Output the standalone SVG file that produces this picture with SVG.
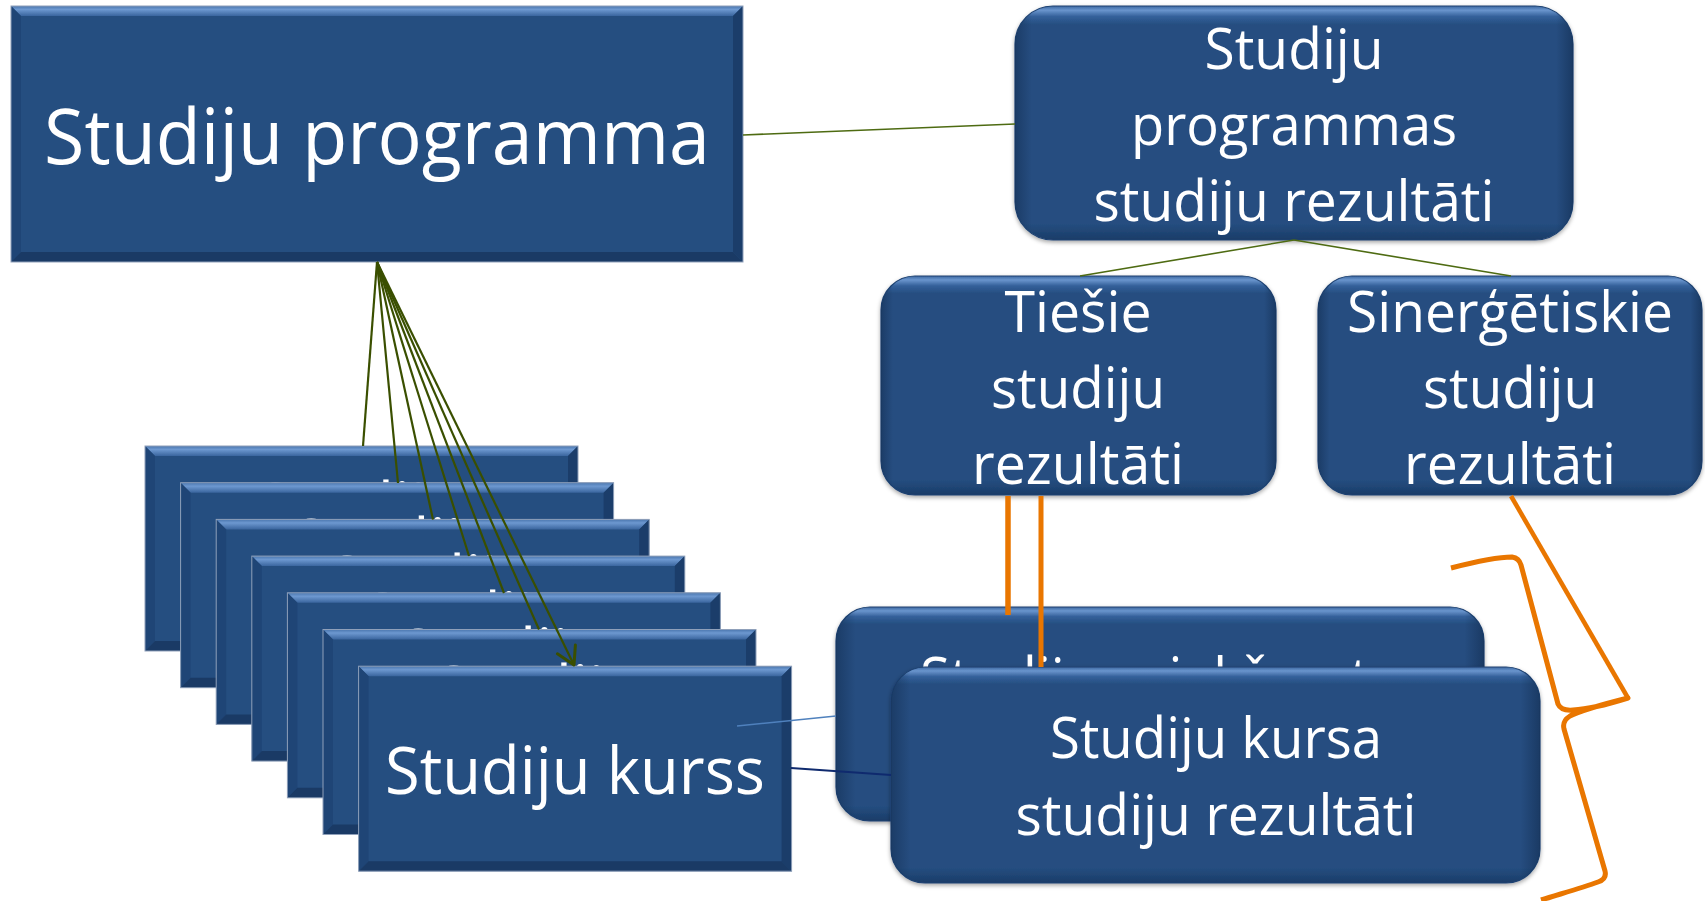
<svg xmlns="http://www.w3.org/2000/svg" xmlns:xlink="http://www.w3.org/1999/xlink" width="1705" height="901" viewBox="0 0 1705 901">
<defs>
<style>
.t{font-family:"Open Sans","Noto Sans","Liberation Sans",sans-serif;fill:#ffffff;text-anchor:middle}
.s57{font-size:57px}
.s66{font-size:66px}
.base{fill:#254E80}
.edge{fill:none;stroke:#8FA0BA;stroke-width:1}
.rbox{fill:url(#rr);stroke:#1E4272;stroke-width:1.2}
.rov{fill:url(#rrh)}
.ol{stroke:#4E6B12;stroke-width:1.6;fill:none}
.fan{stroke:#3A4F00;stroke-width:2.2;fill:none}
.or{stroke:#E97600;fill:none}
</style>
<linearGradient id="topBev" x1="0" y1="0" x2="0" y2="1">
<stop offset="0" stop-color="#4A76AE"/>
<stop offset="0.35" stop-color="#6D98D0"/>
<stop offset="1" stop-color="#3A659E"/>
</linearGradient>
<linearGradient id="rr" x1="0" y1="0" x2="0" y2="1">
<stop offset="0" stop-color="#3C68A1"/>
<stop offset="0.018" stop-color="#6A95CD"/>
<stop offset="0.045" stop-color="#34609A"/>
<stop offset="0.08" stop-color="#254E80"/>
<stop offset="0.93" stop-color="#254E80"/>
<stop offset="1" stop-color="#1A3C68"/>
</linearGradient>
<linearGradient id="rrh" x1="0" y1="0" x2="1" y2="0">
<stop offset="0" stop-color="#0E2748" stop-opacity="0.45"/>
<stop offset="0.03" stop-color="#0E2748" stop-opacity="0"/>
<stop offset="0.97" stop-color="#0E2748" stop-opacity="0"/>
<stop offset="1" stop-color="#0E2748" stop-opacity="0.5"/>
</linearGradient>
<filter id="sh" x="-5%" y="-5%" width="110%" height="115%">
<feDropShadow dx="0" dy="2" stdDeviation="2" flood-color="#000000" flood-opacity="0.35"/>
</filter>
<g id="cbox">
<rect class="base" width="433" height="205"/>
<polygon points="0,0 433,0 423,10 10,10" fill="url(#topBev)"/>
<polygon points="0,0 10,10 10,195 0,205" fill="#1F4576"/>
<polygon points="433,0 433,205 423,195 423,10" fill="#1B3D6A"/>
<polygon points="0,205 10,195 423,195 433,205" fill="#1A3A65"/>
<rect class="edge" width="433" height="205"/>
</g>
<marker id="arr" markerUnits="userSpaceOnUse" viewBox="0 -2 22 24" refX="20" refY="10" markerWidth="22" markerHeight="24" orient="auto">
<path d="M2.7,0 L20,10 L2.7,20" fill="none" stroke="#3A4F00" stroke-width="3" stroke-linecap="round" stroke-linejoin="round"/>
</marker>
</defs>

<rect width="1705" height="901" fill="#ffffff"/>

<g id="studiju-programma">
<rect class="base" x="11" y="6" width="732" height="256"/>
<polygon points="11,6 743,6 733,16 21,16" fill="url(#topBev)"/>
<polygon points="11,6 21,16 21,252 11,262" fill="#1F4576"/>
<polygon points="743,6 743,262 733,252 733,16" fill="#1B3D6A"/>
<polygon points="11,262 21,252 733,252 743,262" fill="#1A3A65"/>
<rect class="edge" x="11" y="6" width="732" height="256"/>
<text class="t" x="377" y="164" font-size="77" textLength="666" lengthAdjust="spacingAndGlyphs">Studiju programma</text>
</g>

<g id="programmas-rezultati">
<rect class="rbox" x="1015" y="6" width="558" height="234" rx="38" filter="url(#sh)"/>
<rect class="rov" x="1015" y="6" width="558" height="234" rx="38"/>
<text class="t s57" x="1294" y="69" textLength="179" lengthAdjust="spacingAndGlyphs">Studiju</text>
<text class="t s57" x="1294" y="145" textLength="326" lengthAdjust="spacingAndGlyphs">programmas</text>
<text class="t s57" x="1294" y="221" textLength="401" lengthAdjust="spacingAndGlyphs">studiju rezultāti</text>
</g>

<g id="tiesie-rezultati">
<rect class="rbox" x="881" y="276" width="395" height="219" rx="34" filter="url(#sh)"/>
<rect class="rov" x="881" y="276" width="395" height="219" rx="34"/>
<text class="t s57" x="1078" y="332" textLength="147" lengthAdjust="spacingAndGlyphs">Tiešie</text>
<text class="t s57" x="1078" y="408" textLength="174" lengthAdjust="spacingAndGlyphs">studiju</text>
<text class="t s57" x="1078" y="484" textLength="212" lengthAdjust="spacingAndGlyphs">rezultāti</text>
</g>

<g id="sinergetiskie-rezultati">
<rect class="rbox" x="1318" y="276" width="384" height="219" rx="34" filter="url(#sh)"/>
<rect class="rov" x="1318" y="276" width="384" height="219" rx="34"/>
<text class="t s57" x="1510" y="332" textLength="326" lengthAdjust="spacingAndGlyphs">Sinerģētiskie</text>
<text class="t s57" x="1510" y="408" textLength="174" lengthAdjust="spacingAndGlyphs">studiju</text>
<text class="t s57" x="1510" y="484" textLength="212" lengthAdjust="spacingAndGlyphs">rezultāti</text>
</g>

<g id="prieksmeta-rezultati">
<rect class="rbox" x="836" y="607" width="648" height="214" rx="34" filter="url(#sh)"/>
<rect class="rov" x="836" y="607" width="648" height="214" rx="34"/>
<text class="t s57" x="1160" y="698" textLength="480" lengthAdjust="spacingAndGlyphs">Studiju priekšmeta</text>
</g>

<g id="kursa-rezultati">
<rect class="rbox" x="891" y="667" width="649" height="216" rx="34" filter="url(#sh)"/>
<rect class="rov" x="891" y="667" width="649" height="216" rx="34"/>
<text class="t s57" x="1216" y="758" textLength="332" lengthAdjust="spacingAndGlyphs">Studiju kursa</text>
<text class="t s57" x="1216" y="835" textLength="401" lengthAdjust="spacingAndGlyphs">studiju rezultāti</text>
</g>

<g id="kurss-1">
<use xlink:href="#cbox" href="#cbox" x="145" y="446"/>
<text class="t s66" x="361.5" y="529.5" textLength="208.5" lengthAdjust="spacingAndGlyphs">Studiju</text>
</g>
<g id="kurss-2">
<use xlink:href="#cbox" href="#cbox" x="180.6" y="482.7"/>
<text class="t s66" x="397.1" y="566.2" textLength="208.5" lengthAdjust="spacingAndGlyphs">Studiju</text>
</g>
<g id="kurss-3">
<use xlink:href="#cbox" href="#cbox" x="216.2" y="519.4"/>
<text class="t s66" x="432.7" y="602.9" textLength="208.5" lengthAdjust="spacingAndGlyphs">Studiju</text>
</g>
<g id="kurss-4">
<use xlink:href="#cbox" href="#cbox" x="251.8" y="556.1"/>
<text class="t s66" x="468.3" y="639.6" textLength="208.5" lengthAdjust="spacingAndGlyphs">Studiju</text>
</g>
<g id="kurss-5">
<use xlink:href="#cbox" href="#cbox" x="287.4" y="592.8"/>
<text class="t s66" x="503.9" y="676.3" textLength="208.5" lengthAdjust="spacingAndGlyphs">Studiju</text>
</g>
<g id="kurss-6">
<use xlink:href="#cbox" href="#cbox" x="323" y="629.5"/>
<text class="t s66" x="539.5" y="713" textLength="208.5" lengthAdjust="spacingAndGlyphs">Studiju</text>
</g>
<g id="studiju-kurss">
<use xlink:href="#cbox" href="#cbox" x="358.6" y="666.2"/>
<text class="t s66" x="575" y="794" textLength="380" lengthAdjust="spacingAndGlyphs">Studiju kurss</text>
</g>

<g id="connectors">
<line class="ol" x1="743" y1="135" x2="1015" y2="124"/>
<line class="ol" x1="1294" y1="240" x2="1080" y2="276"/>
<line class="ol" x1="1294" y1="240" x2="1511" y2="276"/>
<line class="fan" x1="377" y1="262" x2="363" y2="446"/>
<line class="fan" x1="377" y1="262" x2="398" y2="483"/>
<line class="fan" x1="377" y1="262" x2="433" y2="519.5"/>
<line class="fan" x1="377" y1="262" x2="469" y2="556"/>
<line class="fan" x1="377" y1="262" x2="504" y2="593"/>
<line class="fan" x1="377" y1="262" x2="539" y2="629.5"/>
<line class="fan" x1="377" y1="262" x2="574" y2="665" stroke-width="2.8" marker-end="url(#arr)"/>
<line x1="737" y1="726" x2="836" y2="716" stroke="#4F81BD" stroke-width="1.6"/>
<line x1="791" y1="768" x2="891" y2="775" stroke="#0F2A6E" stroke-width="2"/>
<line class="or" x1="1008" y1="496" x2="1008" y2="615" stroke-width="5.5"/>
<line class="or" x1="1041" y1="496" x2="1041" y2="667" stroke-width="5"/>
<line class="or" x1="1511" y1="496" x2="1628" y2="698" stroke-width="4.5"/>
<path class="or" stroke-width="5" stroke-linejoin="round" d="M1451,568 C1478,561 1500,557 1512,557 Q1519,558 1521,565 L1558,704 Q1561,711 1573,710 C1592,709 1612,703 1628,698 C1608,703 1582,710 1570,716 Q1562,721 1564,729 L1605,871 Q1607,879 1598,882 C1582,888 1560,894 1541,900"/>
</g>
</svg>
